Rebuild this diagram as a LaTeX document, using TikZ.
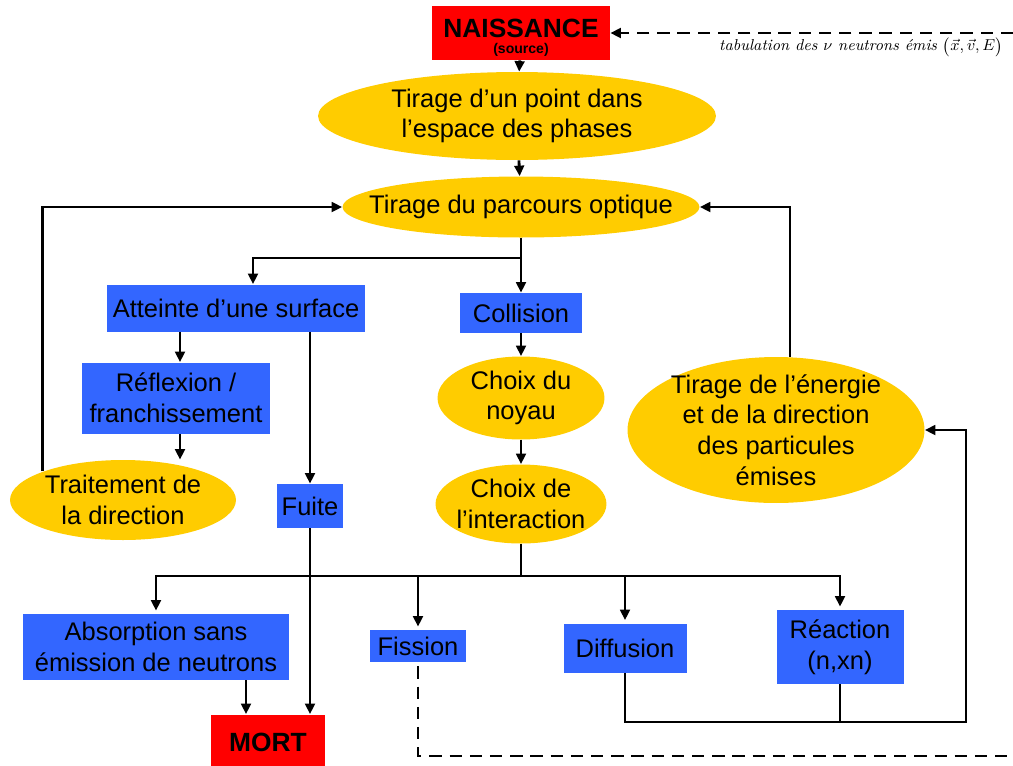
\documentclass[tikz,border=0pt]{standalone}
\usepackage{amsmath,amssymb}
\usepackage{fontspec}
\usepackage{xcolor}
\usepackage{tikz}
\usetikzlibrary{calc,arrows.meta,shapes.geometric}
\newfontfamily\arial{Liberation Sans}
\definecolor{naissred}{RGB}{255, 0, 0}
\definecolor{boxblue}{RGB}{51, 102, 255}
\definecolor{ovalgold}{RGB}{255, 204, 0}

\begin{document}
\begin{tikzpicture}[x=0.02cm, y=-0.02cm, >={Triangle[length=6pt,width=5.5pt]},
  redbox/.style={rectangle, fill=naissred, align=center, inner sep=0pt,
    font=\arial\bfseries\fontsize{15}{17}\selectfont},
  bluebox/.style={rectangle, fill=boxblue, align=center, inner sep=0pt,
    font=\arial\fontsize{14.5}{17.5}\selectfont},
  oval/.style={ellipse, fill=ovalgold, align=center, inner sep=-20pt,
    font=\arial\fontsize{14.5}{17.5}\selectfont},
  link/.style={->, line width=1.6pt},
  dashlink/.style={line width=1.6pt, dash pattern=on 7pt off 4.5pt}]
  \useasboundingbox (0,0) rectangle (1013,765);

  % Source and sampling of the phase space
  \node[redbox, minimum width=3.56cm, minimum height=1.08cm] (nais) at (521,33)
    {\rule{0pt}{16pt}NAISSANCE\\[-8pt]{\fontsize{8}{9}\selectfont (source)}};
  \node[oval, minimum width=7.96cm, minimum height=1.76cm] (point) at (517,116)
    {Tirage d’un point dans\\l’espace des phases};
  \node[oval, minimum width=7.14cm, minimum height=1.22cm] (parcours) at (521,207)
    {Tirage du parcours optique};

  % Surface branch
  \node[bluebox, minimum width=5.18cm, minimum height=0.94cm] (atteinte) at (236,308)
    {Atteinte d’une surface};
  \node[bluebox, minimum width=3.76cm, minimum height=1.42cm] (reflexion) at (176,398)
    {Réflexion /\\franchissement};
  \node[oval, minimum width=4.52cm, minimum height=1.6cm] (traitement) at (123,500)
    {Traitement de\\la direction};
  \node[bluebox, minimum width=1.32cm, minimum height=0.88cm] (fuite) at (310,506) {Fuite};

  % Collision branch
  \node[bluebox, minimum width=2.44cm, minimum height=0.8cm] (collision) at (521,313) {Collision};
  \node[oval, minimum width=3.34cm, minimum height=1.66cm] (noyau) at (521,398)
    {Choix du\\noyau};
  \node[oval, minimum width=3.42cm, minimum height=1.58cm] (interaction) at (521,504)
    {Choix de\\l’interaction};
  \node[oval, minimum width=5.94cm, minimum height=2.92cm] (energie) at (776,430)
    {Tirage de l’énergie\\et de la direction\\des particules\\émises};

  % Interactions
  \node[bluebox, minimum width=5.34cm, minimum height=1.32cm] (absorption) at (156,647)
    {Absorption sans\\émission de neutrons};
  \node[bluebox, minimum width=1.94cm, minimum height=0.64cm] (fission) at (418,646) {Fission};
  \node[bluebox, minimum width=2.46cm, minimum height=0.98cm] (diffusion) at (625,648) {Diffusion};
  \node[bluebox, minimum width=2.54cm, minimum height=1.48cm] (reaction) at (840,647)
    {Réaction\\(n,xn)};
  \node[redbox, minimum width=2.3cm, minimum height=1.1cm] (mort) at (268,742) {MORT};

  % Helper coordinates
  \coordinate (split1) at (521,258);
  \coordinate (split2) at (521,576);
  \coordinate (retour) at (966,722);
  \coordinate (tab) at (1013,33);
  \coordinate (bord) at (1013,756);

  % Main chain
  \draw[link] (nais) -- (point);
  \draw[link] (point) -- (parcours);
  \draw[line width=1.6pt] (parcours.south) -- (split1);
  \draw[link] (split1) -| ($(atteinte.north)+(17,0)$);
  \draw[link] (split1) -- (collision);
  \draw[link] ($(atteinte.south)+(-56,0)$) coordinate (a1) -- (a1 |- reflexion.north);
  \draw[link] (a1 |- reflexion.south) -- (a1 |- traitement.north);
  \draw[link] (traitement.north west) |- (parcours.west);
  \draw[link] (fuite.north |- atteinte.south) -- (fuite.north);
  \draw[link] (fuite.south) -- (fuite.south |- mort.north);
  \draw[link] (collision) -- (noyau);
  \draw[link] (noyau) -- (interaction);
  \draw[line width=1.6pt] (interaction.south) -- (split2);
  \foreach \n in {absorption,fission,diffusion,reaction}
    \draw[link] (split2) -| ($(\n.north)+(0,-3)$);
  \draw[link] ($(absorption.south)+(90,0)$) -- ($(mort.north)+(-22,0)$);

  % Return loops
  \draw[link] (diffusion.south) |- (retour) -- (retour |- energie.east) -- (energie.east);
  \draw[line width=1.6pt] (reaction.south) -- (reaction.south |- retour);
  \draw[link] ($(energie.north)+(14,0)$) |- (parcours.east);
  \draw[dashlink] ($(fission.south)+(0,4)$) -- (fission.south |- bord) -- (bord);
  \draw[dashlink, ->] (tab) -- (nais.east);
  \node[anchor=east, font=\fontsize{9}{11}\selectfont] (tablabel) at (1009,47)
    {\itshape tabulation des $\nu$ neutrons émis $\bigl(\vec{x},\vec{v},E\bigr)$};
\end{tikzpicture}
\end{document}
